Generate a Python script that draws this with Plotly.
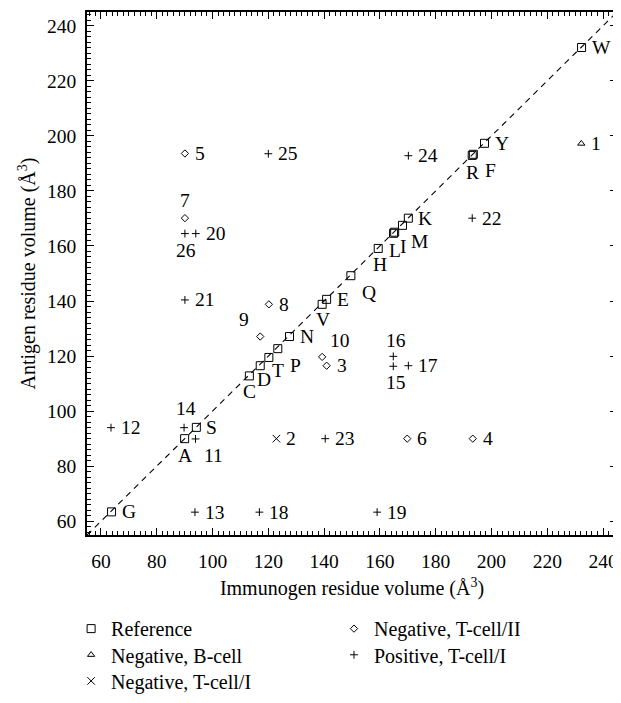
import plotly.graph_objects as go

# ---------------- data ----------------
AXIS_RANGE = [55, 245]
TICK_VALUES = [60, 80, 100, 120, 140, 160, 180, 200, 220, 240]

ref_labels = ["G", "A", "S", "C", "D", "T", "P", "N", "V", "E", "Q", "H",
              "L", "I", "M", "K", "R", "F", "Y", "W"]
ref_x = [63.8, 90, 94.2, 113.2, 117.1, 120.2, 123.4, 127.6, 139.3, 140.9, 149.6, 159.4,
         164.9, 165.3, 168.1, 170.2, 193.1, 193.5, 197.5, 232.3]
ref_y = [63.4, 90, 94.1, 112.8, 116.5, 119.5, 122.7, 127.1, 138.8, 140.6, 149.2, 159.1,
         164.6, 165.0, 167.5, 170.1, 192.9, 193.3, 197.3, 232.1]

bcell_labels = ["1"]
bcell_x = [232.2]
bcell_y = [197.2]

tc1neg_labels = ["2"]
tc1neg_x = [122.9]
tc1neg_y = [90]

tc2neg_labels = ["3", "4", "5", "6", "7", "8", "9", "10"]
tc2neg_x = [140.9, 193.3, 90.1, 169.8, 90.1, 120.2, 117.1, 139.3]
tc2neg_y = [116.5, 90, 193.6, 90, 170.1, 138.8, 127.1, 119.7]

pos_labels = ["11", "12", "13", "14", "15", "16", "17", "18", "19", "20",
              "21", "22", "23", "24", "25", "26"]
pos_x = [93.9, 63.6, 93.7, 89.8, 164.8, 164.8, 170.2, 116.8, 159.0, 94.0,
         90.1, 193.1, 140.4, 170.2, 120.0, 90.1]
pos_y = [89.9, 94.0, 63.3, 94.0, 116.3, 119.9, 116.5, 63.3, 63.3, 164.5,
         140.4, 170.1, 90.0, 192.8, 193.5, 164.5]

# ---------------- styles ----------------
FONT = "Liberation Serif"
LABEL_SIZE = 19.5
# glyph-centre offset (px, right / down) of labels that are not simply to the right
LABEL_OFFSET = {
    "A": (0, 17), "C": (0, 16), "D": (4, 14), "T": (9, 13.5), "P": (17.5, 16.5),
    "V": (1, 15), "Q": (18, 17), "H": (1.5, 16), "L": (1, 17), "I": (9, 14),
    "M": (17.5, 16.5), "R": (0, 17), "F": (17.5, 16), "7": (0, -18),
    "9": (-16.5, -17.5), "10": (18, -16.5), "11": (18, 17), "14": (2, -19),
    "15": (3, 16), "16": (3, -16), "26": (1.5, 17),
}
RIGHT_GAP = 8
V_CORR = 0

fig = go.Figure()

fig.add_shape(type="line", xref="x", yref="y",
              x0=AXIS_RANGE[0], y0=AXIS_RANGE[0], x1=AXIS_RANGE[1], y1=AXIS_RANGE[1],
              line=dict(color="black", width=1.1, dash="6px,5px"), layer="below")

annotations = []


def add(name, xs, ys, labels, symbol, size, legend):
    fig.add_trace(go.Scatter(
        x=xs, y=ys, name=name, mode="markers",
        marker=dict(symbol=symbol, size=size, color="black",
                    line=dict(color="black", width=1)),
        legend=legend, cliponaxis=False,
    ))
    for xv, yv, lab in zip(xs, ys, labels):
        if lab in LABEL_OFFSET:
            dx, dy = LABEL_OFFSET[lab]
            annotations.append(dict(x=xv, y=yv, xref="x", yref="y", text=lab,
                                    showarrow=False, xanchor="center", yanchor="middle",
                                    xshift=dx, yshift=-dy + V_CORR,
                                    font=dict(family=FONT, size=LABEL_SIZE, color="black")))
        else:
            annotations.append(dict(x=xv, y=yv, xref="x", yref="y", text=lab,
                                    showarrow=False, xanchor="left", yanchor="middle",
                                    xshift=RIGHT_GAP, yshift=V_CORR,
                                    font=dict(family=FONT, size=LABEL_SIZE, color="black")))


add("Reference", ref_x, ref_y, ref_labels, "square-open", 8, "legend")
add("Negative, B-cell", bcell_x, bcell_y, bcell_labels, "triangle-up-open", 6.3, "legend2")
add("Negative, T-cell/I", tc1neg_x, tc1neg_y, tc1neg_labels, "x-thin", 7.5, "legend3")
add("Negative, T-cell/II", tc2neg_x, tc2neg_y, tc2neg_labels, "diamond-open", 5.6, "legend4")
add("Positive, T-cell/I", pos_x, pos_y, pos_labels, "cross-thin", 5.6, "legend5")

axis_common = dict(
    range=AXIS_RANGE, tickvals=TICK_VALUES, ticks="inside", ticklen=7.5,
    tickwidth=1, tickcolor="black", showline=True, linecolor="black",
    linewidth=1.5, mirror="ticks", showgrid=False, zeroline=False,
    tickfont=dict(family=FONT, size=19.5, color="black"),
    minor=dict(dtick=2, tick0=0, ticks="inside", ticklen=4, tickcolor="black",
               tickwidth=1, showgrid=False),
)


def legend_box(xp, yp):
    return dict(x=xp, y=yp, xanchor="left", yanchor="middle", orientation="v",
                font=dict(family=FONT, size=20, color="black"),
                bgcolor="rgba(0,0,0,0)", borderwidth=0, itemsizing="trace")


COL1, COL2 = -0.030, 0.466
ROW1, ROW2, ROW3 = -0.179, -0.229, -0.279

fig.update_layout(
    width=613, height=695,
    margin=dict(l=79, r=3, t=2, b=160),
    paper_bgcolor="white", plot_bgcolor="white",
    font=dict(family=FONT, color="black"),
    xaxis=dict(**axis_common, ticklabelstandoff=8,
               title=dict(text="Immunogen residue volume (Å<sup>3</sup>)",
                          font=dict(family=FONT, size=20), standoff=10)),
    yaxis=dict(**axis_common, ticklabelstandoff=5,
               title=dict(text="Antigen residue volume (Å<sup>3</sup>)",
                          font=dict(family=FONT, size=20), standoff=6)),
    legend=legend_box(COL1, ROW1),
    legend2=legend_box(COL1, ROW2),
    legend3=legend_box(COL1, ROW3),
    legend4=legend_box(COL2, ROW1),
    legend5=legend_box(COL2, ROW2),
    annotations=annotations,
    showlegend=True,
)

fig.write_html("out.html")
